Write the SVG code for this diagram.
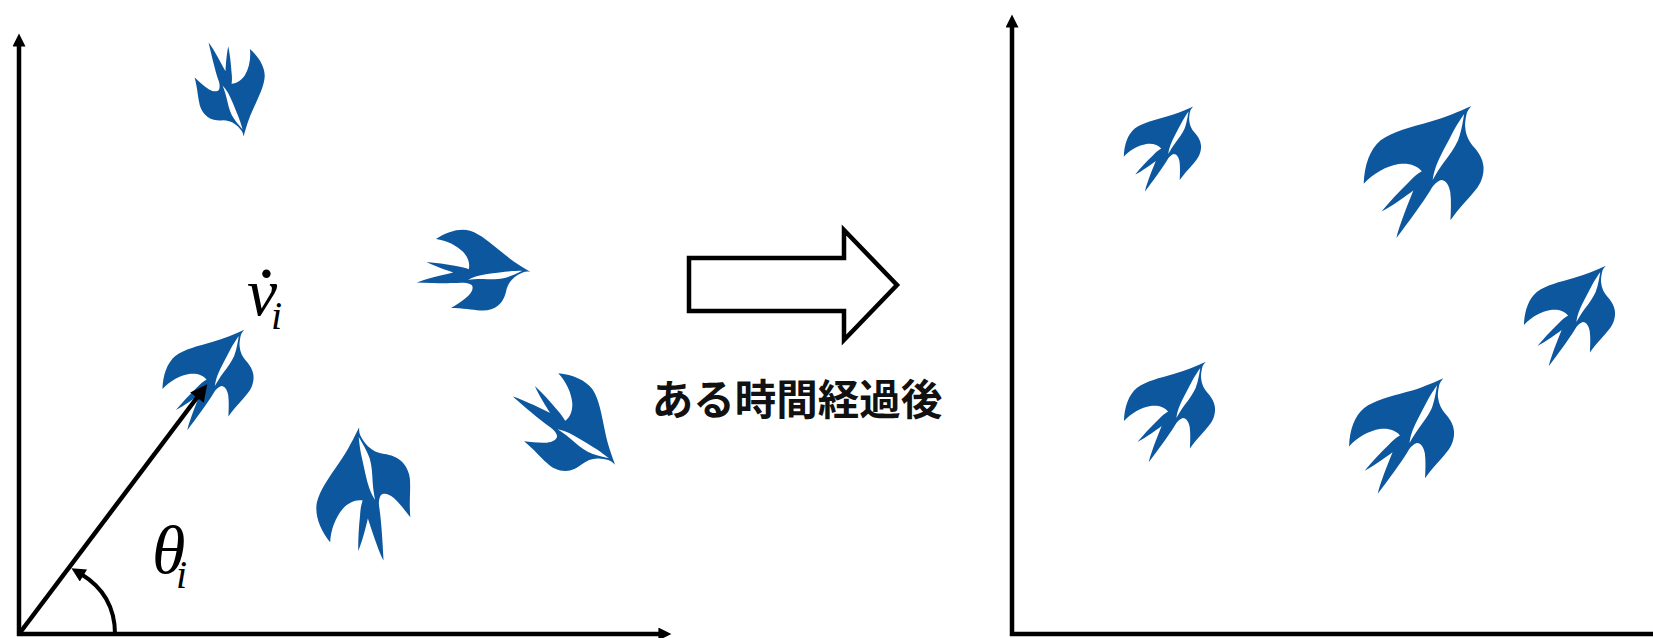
<svg xmlns="http://www.w3.org/2000/svg" xmlns:xlink="http://www.w3.org/1999/xlink" width="1653" height="638" viewBox="0 0 1653 638">
  <style>
    .axis { stroke: #000; stroke-width: 4.5; fill: none; }
    .vec { stroke: #000; stroke-width: 4.5; fill: none; }
    .arc { stroke: #000; stroke-width: 4; fill: none; }
    .math { font-family: "Liberation Serif", "Times New Roman", serif; font-style: italic; fill: #000; }
    .jp { font-family: "Noto Sans CJK JP", "Noto Sans CJK SC", sans-serif; font-weight: 700; font-size: 41.5px; fill: #111; }
    .bird-body { fill: #0D579E; }
    .bird-belly { fill: #fff; }
  </style>
  <defs>
    <marker id="head" viewBox="0 0 10 10" refX="2" refY="5" markerWidth="16" markerHeight="13" markerUnits="userSpaceOnUse" orient="auto">
      <path d="M0,0 L10,5 L0,10 z" fill="#000"/>
    </marker>
    <marker id="head-vec" viewBox="0 0 10 10" refX="2" refY="5" markerWidth="21" markerHeight="17" markerUnits="userSpaceOnUse" orient="auto">
      <path d="M0,0 L10,5 L0,10 z" fill="#000"/>
    </marker>
    <marker id="head-arc" viewBox="0 0 10 10" refX="2" refY="5" markerWidth="16" markerHeight="14" markerUnits="userSpaceOnUse" orient="auto">
      <path d="M0,0 L10,5 L0,10 z" fill="#000"/>
    </marker>
    <!-- swallow silhouette, centred on the origin, flying towards the upper right -->
    <g id="bird">
      <g transform="translate(-50,-54.5) scale(1,1.09)">
        <path class="bird-body" d="M90,0 C88,2 86.5,4 86,6 C85,10 84.5,14 85,17 C85.5,22 88,27 92,31 C96,35 99.5,40 100,46 C100.5,52 98,59 93,64 C88,70 80,77 72.7,86.5 C73,80 73.5,72 72.5,65 C71.5,60 69,56 65,56 C62,57 59,59 56,64 C50,73 38,88 28,100 C30,92 35,80 42,64 C36,68 26,75 15.7,80 C22,73 30,65 38,58 C42,54 46,51 49,49.5 C45,45 38,43 30,44 C20,45.5 9,51 1,59 C1.5,45 6,33 15,26 C25,19 40,16 55,12 C68,9 80,4 90,0 Z"/>
        <path class="bird-belly" d="M84,6 C81,10 78,14 74,21 C69,30 64,38 61,45 C59.5,49 58.5,52 58,56 C60.5,52 63,48 67,43 C72,37 76,32 79,26 C81,21 82.5,15 84,6 Z"/>
      </g>
    </g>
  </defs>

  <rect width="1653" height="638" fill="#fff"/>

  <!-- coordinate axes -->
  <g id="axes">
    <line class="axis" x1="19" y1="636" x2="19" y2="44" marker-end="url(#head)"/>
    <line class="axis" x1="17" y1="634" x2="661" y2="634" marker-end="url(#head)"/>
    <line class="axis" x1="1012" y1="636" x2="1012" y2="25" marker-end="url(#head)"/>
    <line class="axis" x1="1010" y1="634" x2="1653" y2="634"/>
  </g>

  <!-- birds before -->
  <g id="bird-a1"><use xlink:href="#bird" transform="translate(230.7,84) rotate(130) scale(0.8)"/></g>
  <g id="bird-a2"><use xlink:href="#bird" transform="translate(468.8,270.4) rotate(55) scale(0.91)"/></g>
  <g id="bird-a3"><use xlink:href="#bird" transform="translate(207.5,380) scale(0.92)"/></g>
  <g id="bird-a4"><use xlink:href="#bird" transform="translate(564.5,421.8) rotate(94) scale(0.98)"/></g>
  <g id="bird-a5"><use xlink:href="#bird" transform="translate(363.9,500.2) rotate(-40) scale(1.08)"/></g>

  <!-- birds after -->
  <g id="bird-b1"><use xlink:href="#bird" transform="translate(1162,149) scale(0.78)"/></g>
  <g id="bird-b2"><use xlink:href="#bird" transform="translate(1423,172) scale(1.21)"/></g>
  <g id="bird-b3"><use xlink:href="#bird" transform="translate(1569,316) scale(0.92)"/></g>
  <g id="bird-b4"><use xlink:href="#bird" transform="translate(1169,412) scale(0.92)"/></g>
  <g id="bird-b5"><use xlink:href="#bird" transform="translate(1401,436) scale(1.06)"/></g>

  <!-- velocity vector and heading angle -->
  <g id="connectors">
    <line class="vec" x1="19" y1="634" x2="199" y2="395" marker-end="url(#head-vec)"/>
    <path class="arc" d="M115,634 C115,608 104,588 81,574" marker-end="url(#head-arc)"/>
  </g>

  <!-- labels -->
  <g id="label-v">
    <text class="math" x="247" y="315" font-size="68">v</text>
    <text class="math" x="248" y="323" font-size="80">˙</text>
    <text class="math" x="271" y="329" font-size="40">i</text>
  </g>
  <g id="label-theta">
    <text class="math" x="152" y="573" font-size="68">θ</text>
    <text class="math" x="176" y="588" font-size="40">i</text>
  </g>

  <!-- elapsed-time arrow -->
  <g id="time-arrow">
    <polygon points="689,258 844,258 844,230 897,285 844,340 844,311 689,311" fill="#fff" stroke="#000" stroke-width="4.5" stroke-linejoin="miter"/>
    <text class="jp" x="797" y="415" text-anchor="middle">ある時間経過後</text>
  </g>
</svg>
